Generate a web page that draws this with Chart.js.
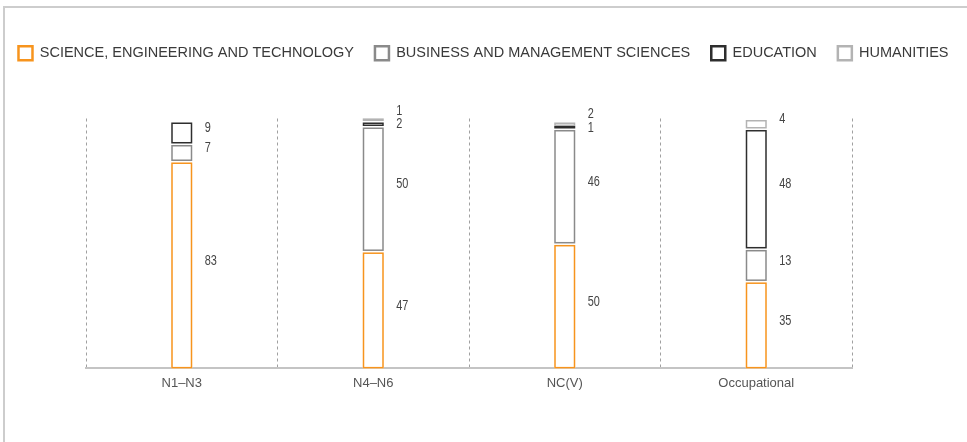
<!DOCTYPE html>
<html><head><meta charset="utf-8">
<script src="https://cdn.jsdelivr.net/npm/chart.js@4.4.0/dist/chart.umd.min.js"></script>
<style>
html,body{margin:0;padding:0;background:#fff;overflow:hidden;}
#wrap{position:relative;width:967px;height:442px;overflow:hidden;}
#frame{position:absolute;left:3px;top:6px;width:2000px;height:2000px;border-top:2px solid #cdcdcd;border-left:2px solid #cdcdcd;}
canvas{position:absolute;left:0;top:0;}
</style></head><body>
<div id="wrap"><div id="frame"></div><canvas id="c" width="967" height="442"></canvas></div>
<script>
const categories = ['N1–N3', 'N4–N6', 'NC(V)', 'Occupational'];
const seriesNames = ['SCIENCE, ENGINEERING AND TECHNOLOGY', 'BUSINESS AND MANAGEMENT SCIENCES', 'EDUCATION', 'HUMANITIES'];
const science    = [83, 47, 50, 35];
const business   = [7, 50, 46, 13];
const education  = [9, 2, 1, 48];
const humanities = [0, 1, 2, 4];
const seriesColors = ['#f7941d', '#8a8a8a', '#2e2e2e', '#b3b3b3'];
const yMax = 100;

const series = [science, business, education, humanities];

const segPlugin = {
  id: 'segments',
  beforeDatasetsDraw(chart) {
    const ctx = chart.ctx;
    const perCat = categories.map(() => []);
    ctx.save();
    chart.data.datasets.forEach((ds, di) => {
      const meta = chart.getDatasetMeta(di);
      meta.data.forEach((bar, i) => {
        const v = ds.data[i];
        if (!v) return;
        const p = bar.getProps(['x', 'y', 'base', 'width'], true);
        const left = p.x - p.width / 2;
        const gap = 1.5;
        let top = p.y + gap;
        let bottom = p.base;
        if (bottom - top < 2.6) top = bottom - 2.6;
        const lw = 1.5;
        ctx.fillStyle = '#ffffff';
        ctx.fillRect(left, top, p.width, bottom - top);
        ctx.lineWidth = lw;
        ctx.strokeStyle = ds.borderColor;
        ctx.strokeRect(left + lw / 2, top + lw / 2, p.width - lw, Math.max(bottom - top - lw, 0.01));
        perCat[i].push({ y: (p.y + p.base) / 2 - 4, x: p.x + p.width / 2 + 12.5, text: String(v) });
      });
    });
    const minGap = 13.5;
    perCat.forEach(items => {
      items.sort((a, b) => a.y - b.y);
      let clusters = items.map(it => ({ items: [it], center: it.y }));
      let changed = true;
      while (changed) {
        changed = false;
        for (let k = 0; k < clusters.length - 1; k++) {
          const a = clusters[k], b = clusters[k + 1];
          const aBot = a.center + (a.items.length - 1) * minGap / 2;
          const bTop = b.center - (b.items.length - 1) * minGap / 2;
          if (bTop - aBot < minGap) {
            const merged = a.items.concat(b.items);
            const c = merged.reduce((s, it) => s + it.y, 0) / merged.length;
            clusters.splice(k, 2, { items: merged, center: c });
            changed = true;
            break;
          }
        }
      }
      clusters.forEach(c => c.items.forEach((it, k) => {
        it.ly = c.center + (k - (c.items.length - 1) / 2) * minGap;
      }));
      ctx.fillStyle = '#444';
      ctx.font = '14px "Liberation Sans", Arial, sans-serif';
      ctx.textAlign = 'left';
      ctx.textBaseline = 'middle';
      items.forEach(it => {
        ctx.save();
        ctx.translate(it.x, it.ly);
        ctx.scale(0.78, 1);
        ctx.fillText(it.text, 0, 0);
        ctx.restore();
      });
    });
    ctx.restore();
    return false;
  }
};

const legendFix = {
  id: 'legendFix',
  beforeLayout(chart) {
    const lg = chart.legend;
    if (lg && !lg._patched) {
      const origFit = lg.fit;
      lg.fit = function () {
        const mw = this.maxWidth;
        this.maxWidth = mw + 200;
        origFit.call(this);
        this.maxWidth = mw;
        this.width = mw;
        this.height += 48;
      };
      const origDraw = lg._draw;
      lg._draw = function () {
        const l = this.left, r = this.right;
        this.left = l - 100; this.right = r + 100;
        origDraw.call(this);
        this.left = l; this.right = r;
      };
      lg._patched = true;
    }
  }
};

new Chart(document.getElementById('c'), {
  type: 'bar',
  data: {
    labels: categories,
    datasets: series.map((d, i) => ({
      label: seriesNames[i],
      data: d,
      backgroundColor: '#ffffff',
      borderColor: seriesColors[i],
      borderWidth: 2.5
    }))
  },
  options: {
    responsive: false,
    animation: false,
    events: [],
    layout: { padding: { top: 25, bottom: 44, left: 0, right: 0 } },
    datasets: { bar: { barThickness: 21 } },
    plugins: {
      tooltip: { enabled: false },
      legend: {
        position: 'top',
        labels: {
          boxWidth: 14, boxHeight: 14, padding: 21,
          color: '#3a3a3a',
          font: { family: '"Liberation Sans", Arial, sans-serif', size: 14.5 }
        }
      }
    },
    scales: {
      x: {
        stacked: true,
        grid: { display: true, offset: true, drawTicks: false, color: '#a0a0a0', lineWidth: 1 },
        border: { display: true, color: '#c4c4c4', width: 2, dash: [3, 3] },
        ticks: { padding: 7, color: '#555', font: { family: '"Liberation Sans", Arial, sans-serif', size: 13 } }
      },
      y: {
        stacked: true, min: 0, max: yMax,
        position: 'left',
        grid: { display: false }, border: { display: false },
        ticks: { display: false },
        afterFit(s) { s.width = 86; }
      },
      y2: {
        position: 'right', min: 0, max: yMax,
        grid: { display: false }, border: { display: false },
        ticks: { display: false },
        afterFit(s) { s.width = 115; }
      }
    }
  },
  plugins: [segPlugin, legendFix]
});
</script>
</body></html>
